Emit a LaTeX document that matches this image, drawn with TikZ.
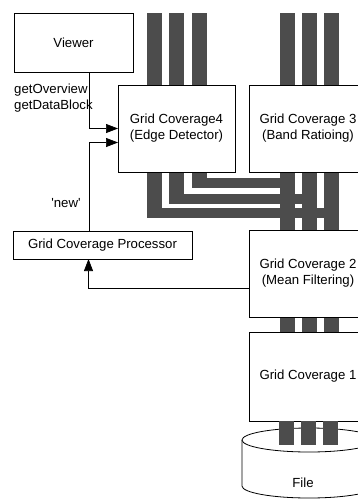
\documentclass[tikz,border=0pt]{standalone}
\usepackage{fontspec}
\newfontfamily\gcfont{Liberation Sans}
\usetikzlibrary{arrows.meta}

\begin{document}
\begin{tikzpicture}[
    x=1pt, y=-1pt,
    box/.style={draw, line width=0.8pt, fill=white, inner sep=0pt, outer sep=0pt, align=center,
                font=\gcfont\fontsize{13.2}{16}\selectfont},
    band/.style={fill=black!70},
    arrow/.style={-{Triangle[length=12pt,width=9pt]}, line width=0.7pt},
    lbl/.style={font=\gcfont\fontsize{13.2}{16}\selectfont, inner sep=0pt, align=left}
]
\useasboundingbox (0,0) rectangle (358,499);
\clip (0,0) rectangle (358,499);

% stripes above the coverages
\foreach \x in {147,169,192}
    \fill[band] (\x,13) rectangle (\x+15,85);
\foreach \x in {280,302,324} {
    \fill[band] (\x,13) rectangle (\x+15,85);
    \fill[band] (\x,172) rectangle (\x+15,230);
    \fill[band] (\x,317) rectangle (\x+15,332);
}

% bands from Grid Coverage4 into the chain
\fill[band] (147,172) rectangle (162,218); \fill[band] (147,208) rectangle (339,218);
\fill[band] (169,172) rectangle (184,204); \fill[band] (169,194) rectangle (317,204);
\fill[band] (192,172) rectangle (207,188); \fill[band] (192,178) rectangle (295,188);

\node[box, minimum width=119pt, minimum height=59pt] (viewer) at (73.5,42.5) {Viewer};
\node[box, minimum width=117pt, minimum height=87pt] (gc4) at (176.5,128.5) {Grid Coverage4\\(Edge Detector)};
\node[box, minimum width=118pt, minimum height=87pt] (gc3) at (308,128.5) {Grid Coverage 3\\(Band Ratioing)};
\node[box, minimum width=118pt, minimum height=87pt] (gc2) at (308,273.5) {Grid Coverage 2\\(Mean Filtering)};
\node[box, minimum width=118pt, minimum height=89pt] (gc1) at (308,376.5) {Grid Coverage 1};
\node[box, minimum width=179pt, minimum height=28pt] (gcp) at (102.5,245) {Grid Coverage Processor};

\node[lbl, anchor=west] (calls) at (14,98) {getOverview\\getDataBlock};
\node[lbl] (new) at (66,203) {\textquotesingle new\textquotesingle};

% file
\draw[line width=0.8pt, fill=white] (242,440) -- (242,486) arc[start angle=180, end angle=360, x radius=67pt, y radius=12pt] -- (376,440);
\draw[line width=0.8pt, fill=white] (309,440) ellipse [x radius=67pt, y radius=12pt];
\node[lbl] (file) at (303,483) {File};
\foreach \x in {279,301,323}
    \fill[band] (\x,421) rectangle (\x+15,445);

\draw[arrow] ([xshift=15.5pt]viewer.south) |- (gc4.west);
\draw[arrow] ([xshift=-13.5pt]gcp.north) |- ([yshift=-14pt]gc4.west);
\draw[arrow] ([yshift=-14.5pt]gc2.west) -| ([xshift=-14pt]gcp.south);
\end{tikzpicture}
\end{document}
